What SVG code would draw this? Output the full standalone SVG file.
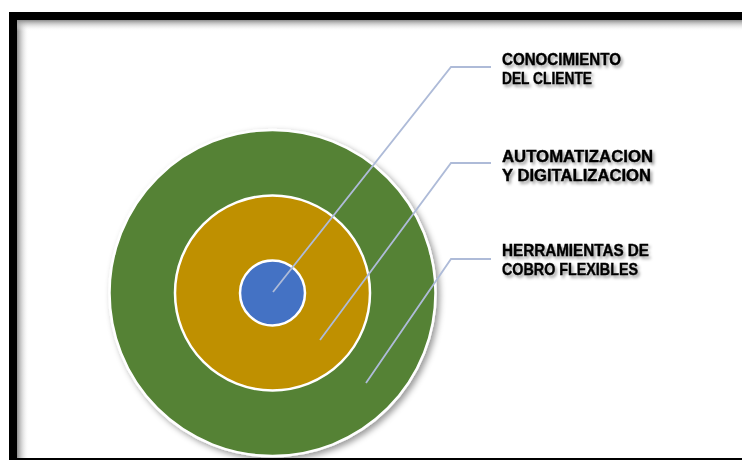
<svg xmlns="http://www.w3.org/2000/svg" width="742" height="460" viewBox="0 0 742 460">
  <defs>
    <style>
      .ring { stroke: #ffffff; stroke-width: 2.5; }
      .lead { fill: none; stroke: #aebbd8; stroke-width: 1.8; }
      .lbl { font-family: "Liberation Sans", Arial, sans-serif; font-weight: bold; font-size: 16.5px; fill: #000000; stroke: #000000; stroke-width: 0.4; }
    </style>
    <filter id="txtShadow" x="-10%" y="-50%" width="130%" height="220%">
      <feDropShadow dx="2" dy="2.5" stdDeviation="1.8" flood-color="#000000" flood-opacity="0.4"/>
    </filter>
    <filter id="discShadow" x="-10%" y="-10%" width="130%" height="130%">
      <feDropShadow dx="3" dy="3" stdDeviation="3" flood-color="#000000" flood-opacity="0.4"/>
    </filter>
    <linearGradient id="shadeLeft" x1="0" y1="0" x2="1" y2="0">
      <stop offset="0" stop-color="#8c8c8c"/>
      <stop offset="1" stop-color="#ffffff" stop-opacity="0"/>
    </linearGradient>
    <linearGradient id="shadeTop" x1="0" y1="0" x2="0" y2="1">
      <stop offset="0" stop-color="#8c8c8c"/>
      <stop offset="1" stop-color="#ffffff" stop-opacity="0"/>
    </linearGradient>
  </defs>

  <rect x="0" y="0" width="742" height="460" fill="#ffffff"/>

  <!-- frame with inner shading -->
  <g id="frame">
    <rect x="17" y="20" width="12" height="440" fill="url(#shadeLeft)"/>
    <rect x="17" y="20" width="725" height="11" fill="url(#shadeTop)"/>
    <rect x="13" y="16" width="740" height="446" fill="none" stroke="#000000" stroke-width="8"/>
  </g>

  <!-- concentric discs -->
  <g id="outer-ring">
    <circle cx="272.5" cy="293" r="163" fill="#548235" class="ring" filter="url(#discShadow)"/>
  </g>
  <g id="middle-ring">
    <circle cx="272.5" cy="293" r="97.5" fill="#bf9000" class="ring"/>
  </g>
  <g id="core">
    <circle cx="272.5" cy="293" r="32.5" fill="#4472c4" class="ring"/>
  </g>

  <!-- leader lines -->
  <g id="connectors">
    <polyline class="lead" points="273,292 451,67 491,67"/>
    <polyline class="lead" points="320,340 451,163 491,163"/>
    <polyline class="lead" points="366,383 451,259 491,259"/>
  </g>

  <!-- labels -->
  <g id="label-conocimiento" filter="url(#txtShadow)">
    <text class="lbl" x="502" y="65" textLength="119" lengthAdjust="spacingAndGlyphs">CONOCIMIENTO</text>
    <text class="lbl" x="502" y="84" textLength="90" lengthAdjust="spacingAndGlyphs">DEL CLIENTE</text>
  </g>
  <g id="label-automatizacion" filter="url(#txtShadow)">
    <text class="lbl" x="502" y="162" textLength="151" lengthAdjust="spacingAndGlyphs">AUTOMATIZACION</text>
    <text class="lbl" x="502" y="181" textLength="149" lengthAdjust="spacingAndGlyphs">Y DIGITALIZACION</text>
  </g>
  <g id="label-herramientas" filter="url(#txtShadow)">
    <text class="lbl" x="502" y="256" textLength="147" lengthAdjust="spacingAndGlyphs">HERRAMIENTAS DE</text>
    <text class="lbl" x="502" y="275" textLength="136" lengthAdjust="spacingAndGlyphs">COBRO FLEXIBLES</text>
  </g>
</svg>
